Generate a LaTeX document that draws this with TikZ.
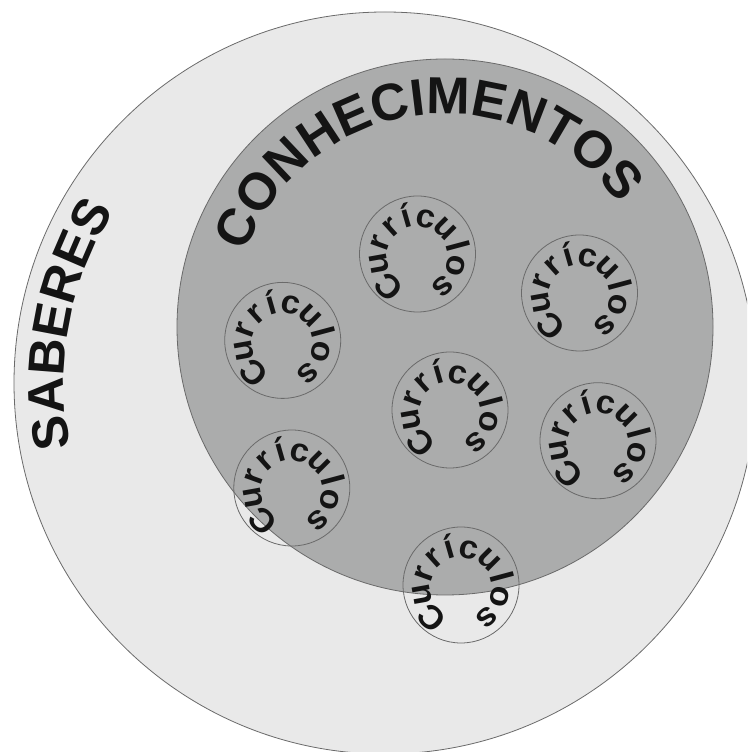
\documentclass[tikz,border=0pt]{standalone}
\usepackage{fontspec}
\setmainfont{Liberation Sans}
\usetikzlibrary{calc}
\definecolor{outerfill}{HTML}{E9E9E9}
\definecolor{innerfill}{HTML}{ABACAC}
\definecolor{edge}{HTML}{6A6A6A}
\definecolor{ink}{HTML}{141414}
% #1 name prefix, #2 cx, #3 cy, #4 baseline radius, #5 start angle,
% #6 font size, #7 extra spacing (em), #8 list char/width(em)
\newcommand\arcletters[8]{%
  \xdef\arcacc{0}%
  \foreach \ch/\w [count=\k] in #8 {%
    \pgfmathsetmacro\arcang{#5 - (\arcacc + \w/2)*#6/#4*57.29578}%
    \node[letter, font={\fontsize{#6}{#6}\selectfont\bfseries},
          rotate=\arcang-90, anchor=base]
      (#1-\k) at ([shift={(\arcang:#4pt)}]#2pt,#3pt) {\ch};%
    \pgfmathsetmacro\arcnew{\arcacc+\w+#7}%
    \xdef\arcacc{\arcnew}%
  }%
}
% Curriculos ring: #1 name prefix, #2 cx, #3 cy
\newcommand\curring[3]{%
  \foreach \ch/\ang [count=\k] in {C/226,u/190,r/160,r/132,í/106,c/78,u/45,l/15,o/-13,s/-49} {%
    \node[letter, font={\fontsize{30}{30}\selectfont\bfseries},
          rotate=\ang-90, anchor=base]
      (#1-\k) at ([shift={(\ang:30.5pt)}]#2pt,#3pt-3pt) {\scalebox{1.15}[1.1]{\ch}};%
  }%
}
\def\conlist{C/0.722,O/0.778,N/0.722,H/0.722,E/0.667,C/0.722,I/0.278,M/0.833,E/0.667,N/0.722,T/0.611,O/0.778,S/0.667}
\def\sablist{S/0.667,A/0.722,B/0.722,E/0.667,R/0.722,E/0.667,S/0.667}
\begin{document}
\begin{tikzpicture}[x=1pt,y=1pt,
  ring/.style={draw=edge, line width=0.8pt},
  letter/.style={inner sep=0pt, outer sep=0pt, text=ink}]
\useasboundingbox (0,0) rectangle (747,752);
\fill[white] (0,0) rectangle (747,752);
\begin{scope}
  \clip (0,0) rectangle (747,752);
  \draw[ring, fill=outerfill] (385pt,369pt) circle (371pt);
  \draw[ring, fill=innerfill] (445pt,425pt) circle (268pt);
  \foreach \cx/\cy [count=\i] in {417.5/498, 579.5/459, 282.7/411.6, 450/342, 598/311.3, 291.8/264, 461/167} {
    \coordinate (cc\i) at (\cx pt,\cy pt);
    \draw[ring] (cc\i) circle (58pt);
  }
\end{scope}
\arcletters{sab}{385}{369}{321}{191.57}{51}{0}{\sablist}
\arcletters{con}{445}{425}{213}{159.5}{52}{0}{\conlist}
\curring{cura}{417.5}{498}
\curring{curb}{579.5}{459}
\curring{curc}{282.7}{411.6}
\curring{curd}{450}{342}
\curring{cure}{598}{311.3}
\curring{curf}{291.8}{264}
\curring{curg}{461}{167}
\end{tikzpicture}
\end{document}
